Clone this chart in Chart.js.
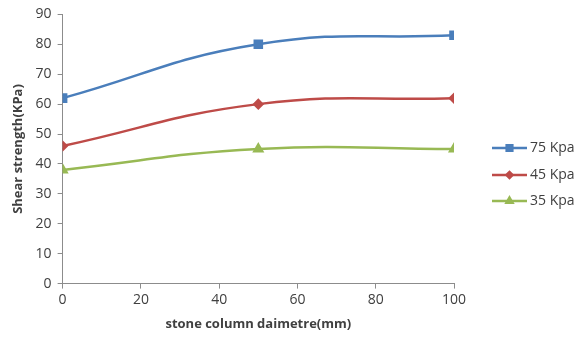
<!DOCTYPE html>
<html>
<head>
<meta charset="utf-8">
<script src="https://cdn.jsdelivr.net/npm/chart.js@4"></script>
<style>
  html, body { margin: 0; padding: 0; background: #fff; }
  #wrap { width: 578px; height: 340px; position: relative; }
</style>
</head>
<body>
<div id="wrap"><canvas id="chart" width="578" height="340"></canvas></div>
<script>
// datos
const diametros = [0, 50, 100];
const kpa75 = [62, 80, 83];
const kpa45 = [46, 60, 62];
const kpa35 = [38, 45, 45];
const seriesNames = ['75 Kpa', '45 Kpa', '35 Kpa'];
const yTicks = [0, 10, 20, 30, 40, 50, 60, 70, 80, 90];
const xTicks = [0, 20, 40, 60, 80, 100];

const FONT = "'Open Sans', 'Noto Sans', sans-serif";
const TXT = '#404040';
const AXIS = '#8c8c8c';

function toPoints(vals) {
    return diametros.map((x, i) => ({ x: x, y: vals[i] }));
}

// leyenda a la derecha: linea + marcador + texto
const legendaExcel = {
    id: 'legendaExcel',
    afterDraw(chart) {
        const ctx = chart.ctx;
        const rows = [148, 175, 201];
        chart.data.datasets.forEach((ds, i) => {
            const y = rows[i];
            ctx.save();
            ctx.strokeStyle = ds.borderColor;
            ctx.lineWidth = 2.5;
            ctx.beginPath();
            ctx.moveTo(492, y);
            ctx.lineTo(527, y);
            ctx.stroke();
            Chart.helpers.drawPoint(ctx, {
                pointStyle: ds.pointStyle,
                radius: ds.pointRadius - 1,
                rotation: 0,
                borderWidth: 1
            }, 509.5, y);
            ctx.fillStyle = ds.borderColor;
            ctx.fill();
            ctx.fillStyle = TXT;
            ctx.font = '14px ' + FONT;
            ctx.textBaseline = 'middle';
            ctx.fillText(ds.label, 530, y);
            ctx.restore();
        });
    }
};

function makeDs(label, vals, color, style, r) {
    return {
        label: label,
        data: toPoints(vals),
        borderColor: color,
        backgroundColor: color,
        pointBackgroundColor: color,
        pointBorderColor: color,
        borderWidth: 2.5,
        pointStyle: style,
        pointRadius: r,
        pointHoverRadius: r,
        tension: 0.45,
        cubicInterpolationMode: 'default',
        fill: false
    };
}

new Chart(document.getElementById('chart'), {
    type: 'line',
    data: {
        datasets: [
            makeDs(seriesNames[0], kpa75, '#4A7EBB', 'rect', 5),
            makeDs(seriesNames[1], kpa45, '#BE4B48', 'rectRot', 4),
            makeDs(seriesNames[2], kpa35, '#98B954', 'triangle', 4.5)
        ]
    },
    options: {
        responsive: false,
        animation: false,
        layout: { padding: { top: 8, right: 124, left: 6, bottom: 4 } },
        plugins: { legend: { display: false }, tooltip: { enabled: false } },
        scales: {
            x: {
                type: 'linear',
                min: 0, max: 100,
                afterBuildTicks: (s) => { s.ticks = xTicks.map(v => ({ value: v })); },
                grid: { drawOnChartArea: false, color: AXIS, tickLength: 5 },
                border: { color: AXIS },
                ticks: { color: TXT, font: { family: FONT, size: 14 }, padding: 3 },
                title: {
                    display: true,
                    text: 'stone column daimetre(mm)',
                    color: TXT,
                    font: { family: FONT, size: 13, weight: 'bold' },
                    padding: { top: 5 }
                }
            },
            y: {
                min: 0, max: 90,
                afterBuildTicks: (s) => { s.ticks = yTicks.map(v => ({ value: v })); },
                grid: { drawOnChartArea: false, color: AXIS, tickLength: 5 },
                border: { color: AXIS },
                ticks: { color: TXT, font: { family: FONT, size: 14 }, padding: 6 },
                title: {
                    display: true,
                    text: 'Shear strength(KPa)',
                    color: TXT,
                    font: { family: FONT, size: 13, weight: 'bold' },
                    padding: { bottom: 4 }
                }
            }
        }
    },
    plugins: [legendaExcel]
});
</script>
</body>
</html>
